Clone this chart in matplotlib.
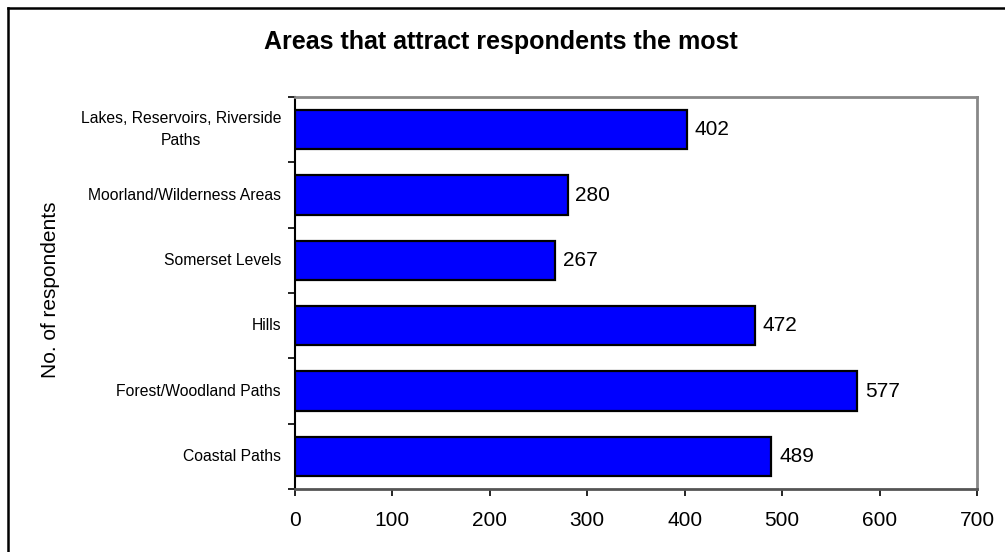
import matplotlib
matplotlib.use("Agg")
import matplotlib.pyplot as plt
from matplotlib.lines import Line2D
import numpy as np

categories = ["Coastal Paths", "Forest/Woodland Paths", "Hills", "Somerset Levels",
              "Moorland/Wilderness Areas", "Lakes, Reservoirs, Riverside\nPaths"]
values = [489, 577, 472, 267, 280, 402]
xticks = [0, 100, 200, 300, 400, 500, 600, 700]
title = "Areas that attract respondents the most"
ylabel = "No. of respondents"

plt.rcParams['font.family'] = ['Liberation Sans', 'DejaVu Sans']

W, H = 1005, 552
fig = plt.figure(figsize=(W / 100, H / 100), dpi=100)
ax = fig.add_axes([295 / W, 1 - 489 / H, (977 - 295) / W, (489 - 97) / H])

pos = np.arange(len(categories))
ax.barh(pos, values, height=0.6, color="#0000FF", edgecolor="black", linewidth=1.6, zorder=3)
ax.set_xlim(0, 700)
ax.set_ylim(-0.5, len(categories) - 0.5)

for p, v in zip(pos, values):
    ax.annotate(str(v), (v, p), xytext=(5.5, 0), textcoords="offset points",
                va="center", ha="left", fontsize=15)

ax.set_xticks(xticks)
ax.set_xticklabels([str(t) for t in xticks], fontsize=15)
ax.tick_params(axis="x", length=5, width=1.2, pad=11, color="black")

ax.set_yticks(np.arange(len(categories) + 1) - 0.5)
ax.set_yticklabels([])
ax.tick_params(axis="y", which="major", length=5, width=1.2, color="black")
ax.set_yticks(pos, minor=True)
ax.set_yticklabels(categories, minor=True, fontsize=11.3, ha="right", va="center",
                   multialignment="center")
for lbl in ax.get_yticklabels(minor=True):
    lbl.set_linespacing(1.55)
ax.tick_params(axis="y", which="minor", length=0, pad=10)

ax.spines["left"].set_color("black")
ax.spines["left"].set_linewidth(1.5)
ax.spines["bottom"].set_color("#555555")
ax.spines["bottom"].set_linewidth(2)
ax.spines["top"].set_color("#888888")
ax.spines["top"].set_linewidth(2)
ax.spines["right"].set_color("#888888")
ax.spines["right"].set_linewidth(2)

fig.text(501 / W, 1 - 42 / H, title, ha="center", va="center", fontsize=18, fontweight="bold")
fig.text(50 / W, 1 - 290 / H, ylabel, rotation=90, ha="center", va="center", fontsize=15)

fig.add_artist(Line2D([8 / W, 8 / W], [0, 1 - 8 / H], color="black", linewidth=1.8, transform=fig.transFigure))
fig.add_artist(Line2D([8 / W, 1], [1 - 8 / H, 1 - 8 / H], color="black", linewidth=1.8, transform=fig.transFigure))

fig.savefig("out.png", dpi=100)
